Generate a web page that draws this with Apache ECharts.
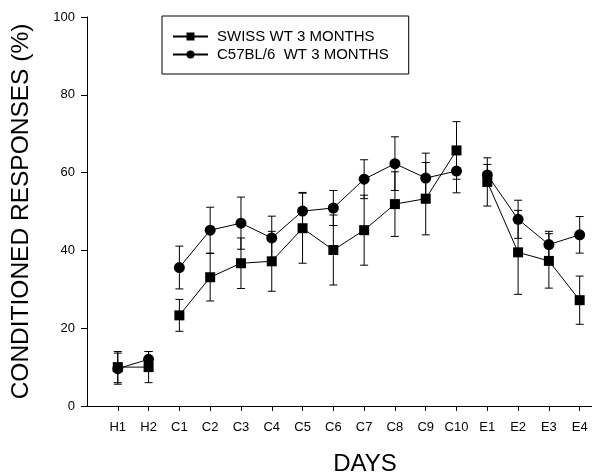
<!DOCTYPE html>
<html>
<head>
<meta charset="utf-8">
<script src="https://cdn.jsdelivr.net/npm/echarts@6/dist/echarts.min.js"></script>
<style>html,body{margin:0;padding:0;background:#fff}#c{width:592px;height:475px}</style>
</head>
<body>
<div id="c"></div>
<script>
var days = ['H1','H2','C1','C2','C3','C4','C5','C6','C7','C8','C9','C10','E1','E2','E3','E4'];
var segmentStarts = [0, 2, 12];
var swiss = [10, 10, 23.3, 33.1, 36.7, 37.2, 45.7, 40.1, 45.2, 51.9, 53.3, 65.7, 57.6, 39.5, 37.3, 27.2];
var swissErr = [4, 4, 4.1, 6.1, 6.5, 7.7, 9, 9, 9, 8.3, 9.3, 7.4, 6.2, 10.8, 7, 6.2];
var c57 = [9.6, 12, 35.6, 45.2, 47.0, 43.2, 50.1, 50.9, 58.3, 62.3, 58.6, 60.4, 59.4, 48.0, 41.5, 44.0];
var c57Err = [4, 2, 5.5, 5.9, 6.7, 5.6, 4.8, 4.5, 5, 6.9, 6.4, 5.6, 2.7, 4.9, 3.4, 4.7];
var yTicks = [0, 20, 40, 60, 80, 100];
var seriesNames = ['SWISS WT 3 MONTHS', 'C57BL/6  WT 3 MONTHS'];

var FONT = '"Liberation Sans", Arial, sans-serif';

function lineData(vals) {
  var out = [];
  vals.forEach(function (v, i) {
    if (i > 0 && segmentStarts.indexOf(i) >= 0) out.push([i + 0.5, '-']);
    out.push([i + 1, v]);
  });
  return out;
}
function errData(vals, errs) {
  return vals.map(function (v, i) { return [i + 1, v - errs[i], v + errs[i]]; });
}
function renderErr(params, api) {
  var x = api.value(0);
  var lo = api.coord([x, api.value(1)]);
  var hi = api.coord([x, api.value(2)]);
  var hw = 4;
  var st = { stroke: '#000', lineWidth: 1 };
  return {
    type: 'group',
    children: [
      { type: 'line', shape: { x1: lo[0], y1: lo[1], x2: hi[0], y2: hi[1] }, style: st },
      { type: 'line', shape: { x1: lo[0] - hw, y1: lo[1], x2: lo[0] + hw, y2: lo[1] }, style: st },
      { type: 'line', shape: { x1: hi[0] - hw, y1: hi[1], x2: hi[0] + hw, y2: hi[1] }, style: st }
    ]
  };
}

var chart = echarts.init(document.getElementById('c'));
chart.setOption({
  animation: false,
  backgroundColor: '#fff',
  grid: { left: 87, right: 0, top: 17, bottom: 69, containLabel: false, outerBoundsMode: 'none' },
  legend: {
    orient: 'vertical',
    left: 162, top: 16,
    padding: [13, 20, 12, 10],
    borderColor: '#000', borderWidth: 1,
    itemWidth: 35, itemHeight: 10, itemGap: 3,
    textStyle: { fontFamily: FONT, fontSize: 15, color: '#000', lineHeight: 15, padding: [0, 0, 0, 4] },
    data: seriesNames
  },
  xAxis: {
    type: 'value', min: 0, max: 16.4, interval: 1,
    name: 'DAYS', nameLocation: 'middle', nameGap: 46,
    nameTextStyle: { fontFamily: FONT, fontSize: 24, color: '#000', padding: [0, 0, 0, 51] },
    axisLine: { lineStyle: { color: '#000', width: 1 } },
    axisTick: { show: true, length: 5, lineStyle: { color: '#000' } },
    axisLabel: {
      fontFamily: FONT, fontSize: 13, color: '#000', margin: 15,
      showMaxLabel: false, showMinLabel: false,
      formatter: function (v) { return (v >= 1 && v <= days.length && v === Math.round(v)) ? days[v - 1] : ''; }
    },
    splitLine: { show: false }
  },
  yAxis: {
    type: 'value', min: yTicks[0], max: yTicks[yTicks.length - 1], interval: 20,
    name: 'CONDITIONED RESPONSES (%)', nameLocation: 'middle', nameGap: 53, nameRotate: 90,
    nameTextStyle: { fontFamily: FONT, fontSize: 24.5, color: '#000' },
    axisLine: { show: true, lineStyle: { color: '#000', width: 1 } },
    axisTick: { show: true, length: 6, lineStyle: { color: '#000' } },
    axisLabel: { fontFamily: FONT, fontSize: 13, color: '#000', margin: 12 },
    splitLine: { show: false }
  },
  series: [
    { type: 'custom', name: 'err0', renderItem: renderErr, data: errData(swiss, swissErr), z: 1, silent: true },
    { type: 'custom', name: 'err1', renderItem: renderErr, data: errData(c57, c57Err), z: 1, silent: true },
    {
      type: 'line', name: seriesNames[0], data: lineData(swiss), connectNulls: false,
      symbol: 'rect', symbolSize: 10, showAllSymbol: true,
      lineStyle: { color: '#000', width: 1 }, itemStyle: { color: '#000' }, z: 3
    },
    {
      type: 'line', name: seriesNames[1], data: lineData(c57), connectNulls: false,
      symbol: 'circle', symbolSize: 11, showAllSymbol: true,
      lineStyle: { color: '#000', width: 1 }, itemStyle: { color: '#000' }, z: 3
    }
  ]
});
</script>
</body>
</html>
